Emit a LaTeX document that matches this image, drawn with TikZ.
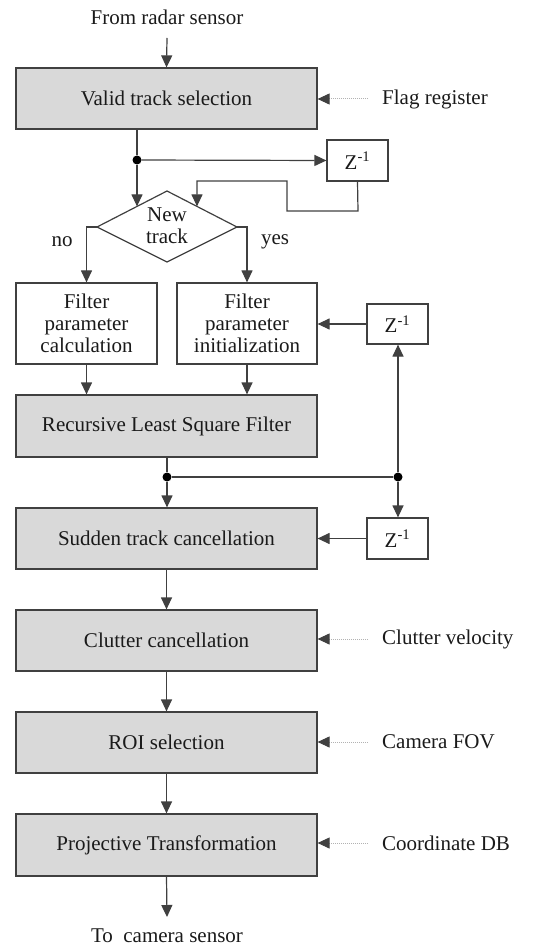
\documentclass[tikz,border=0pt]{standalone}
\usepackage{fontspec}
\setmainfont{Liberation Serif}
\usetikzlibrary{arrows.meta}
\definecolor{linec}{HTML}{404040}
\definecolor{boxfill}{HTML}{D9D9D9}
\definecolor{txt}{HTML}{1A1A1A}
\begin{document}
\begin{tikzpicture}[x=1pt,y=-1pt,
  font=\fontsize{21}{22}\selectfont, text=txt,
  line/.style={draw=linec, line width=1.2pt},
  arr/.style={line, -{Triangle[length=12pt,width=11pt]}},
  dotarr/.style={draw=gray!60, line width=1pt, densely dotted, -{Triangle[length=12pt,width=11pt,color=linec]}},
  graybox/.style={draw=linec, line width=1.2pt, fill=boxfill, minimum width=301pt, minimum height=61pt, inner sep=0pt},
  whitebox/.style={draw=linec, line width=1.2pt, fill=white, minimum width=140pt, minimum height=81pt, inner sep=0pt, align=center},
  zbox/.style={draw=linec, line width=1.2pt, fill=white, minimum width=61pt, minimum height=41pt, inner sep=0pt},
  side/.style={anchor=west, inner sep=0pt},
  junc/.style={circle, fill=black, inner sep=0pt, minimum size=9pt}
]
\useasboundingbox (0,0) rectangle (533,949);

% texts in / out
\node (src) at (167,17) {From radar sensor};
\coordinate (srcend) at (167,38);
\node (dst) at (167,936) {To\ \ camera sensor};

% main boxes
\node[graybox] (vts) at (166.5,98.5) {Valid track selection};
\node[graybox, minimum height=62pt] (rls) at (166.5,426) {Recursive Least Square Filter};
\node[graybox] (sud) at (166.5,538.5) {Sudden track cancellation};
\node[graybox] (clu) at (166.5,640.5) {Clutter cancellation};
\node[graybox] (roi) at (166.5,742.5) {ROI selection};
\node[graybox, minimum height=62pt] (pro) at (166.5,845) {Projective Transformation};

\node[whitebox, minimum width=141pt] (fpc) at (86.5,323.5) {Filter\\parameter\\calculation};
\node[whitebox] (fpi) at (247,323.5) {Filter\\parameter\\initialization};

\node[zbox] (z1) at (357.5,160.5) {Z\textsuperscript{-1}};
\node[zbox, minimum height=40pt] (z2) at (397.5,324) {Z\textsuperscript{-1}};
\node[zbox] (z3) at (397.5,538.5) {Z\textsuperscript{-1}};

% diamond
\coordinate (dt) at (167,191);
\coordinate (dr) at (237,227);
\coordinate (db) at (167,262);
\coordinate (dl) at (97,227);
\draw[line, fill=white] (dt) -- (dr) -- (db) -- (dl) -- cycle;
\node[align=center] (newtrack) at (167,226) {New\\track};
\coordinate (dinL) at (137,206.4);
\coordinate (dinR) at (197,206.4);

% side inputs
\node[side] (flag) at (382,99) {Flag register};
\node[side] (cvel) at (382,639) {Clutter velocity};
\node[side] (cfov) at (382,742) {Camera FOV};
\node[side] (cdb) at (382,843) {Coordinate DB};
\draw[dotarr] (flag.west) ++(-14,0) -- (vts.east |- flag.west);
\draw[dotarr] (cvel.west) ++(-14,0) -- (clu.east |- cvel.west);
\draw[dotarr] (cfov.west) ++(-14,0) -- (roi.east |- cfov.west);
\draw[dotarr] (cdb.west) ++(-14,0) -- (pro.east |- cdb.west);

% flow
\draw[arr] (srcend) -- (vts.north);
\node[junc] (j1) at (137,160) {};
\draw[line] (vts.south -| j1) -- (j1);
\draw[arr] (j1) -- (dinL);
\draw[arr] (j1) -- (z1.west);
\draw[arr] (z1.south) -- (358,211) -- (287,211) -- (287,181) -- (197,181) -- (dinR);

\draw[arr] (dl) -- (fpc.north |- dl) -- (fpc.north);
\draw[arr] (dr) -- (fpi.north |- dr) -- (fpi.north);
\node (no) at (62,242) {no};
\node (yes) at (275,242) {yes};

\draw[arr] (fpc.south) -- (fpc.south |- rls.north);
\draw[arr] (fpi.south) -- (fpi.south |- rls.north);
\draw[arr] (z2.west) -- (fpi.east |- z2.west);

\node[junc] (j2) at (167,477) {};
\node[junc] (j3) at (398,477) {};
\draw[line] (rls.south -| j2) -- (j2);
\draw[line] (j2) -- (j3);
\draw[arr] (j2) -- (sud.north -| j2);
\draw[arr] (j3) -- (z2.south -| j3);
\draw[arr] (j3) -- (z3.north -| j3);
\draw[arr] (z3.west) -- (sud.east |- z3.west);

\draw[arr] (sud.south) -- (clu.north);
\draw[arr] (clu.south) -- (roi.north);
\draw[arr] (roi.south) -- (pro.north);
\draw[arr] (pro.south) -- (167,917);
\end{tikzpicture}
\end{document}
